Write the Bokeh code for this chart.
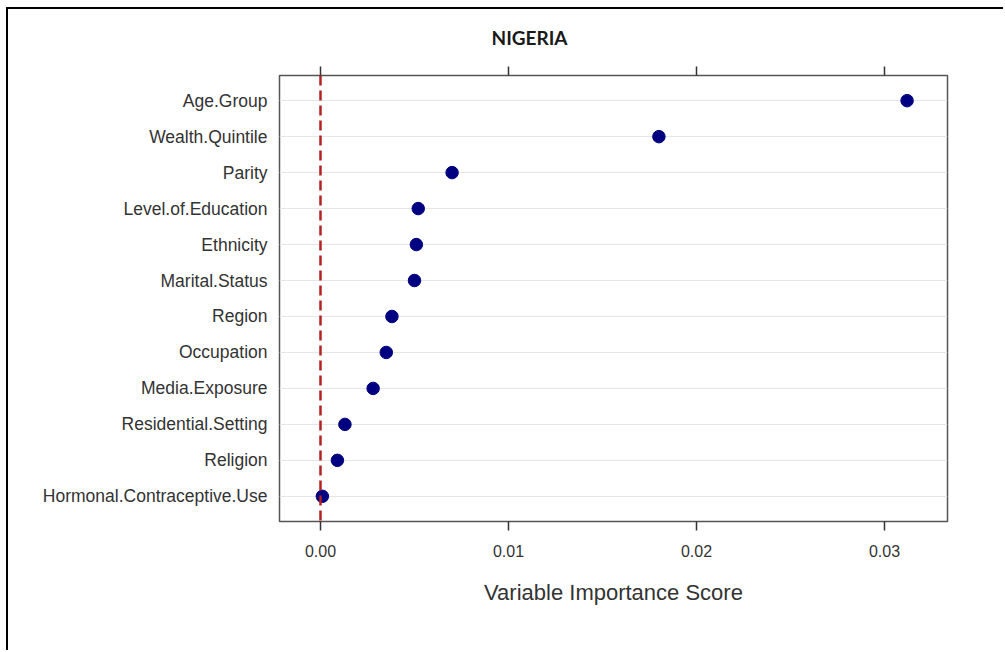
from bokeh.plotting import figure
from bokeh.models import (FactorRange, Range1d, LinearAxis, FixedTicker, Span,
                          ColumnDataSource, CustomJSTickFormatter)
from bokeh.embed import file_html
from bokeh.resources import INLINE

variables = ["Age.Group", "Wealth.Quintile", "Parity", "Level.of.Education",
             "Ethnicity", "Marital.Status", "Region", "Occupation",
             "Media.Exposure", "Residential.Setting", "Religion",
             "Hormonal.Contraceptive.Use"]
importance = [0.0312, 0.0180, 0.0070, 0.0052, 0.0051, 0.0050, 0.0038,
              0.0035, 0.0028, 0.0013, 0.0009, 0.0001]
x_ticks = [0.00, 0.01, 0.02, 0.03]
x_tick_labels = ["0.00", "0.01", "0.02", "0.03"]
title_text = "NIGERIA"

src = ColumnDataSource(dict(var=variables, imp=importance))

p = figure(width=997, height=643,
           y_range=FactorRange(factors=list(reversed(variables)),
                               range_padding=0.2, range_padding_units="absolute"),
           x_range=Range1d(-0.00218, 0.03335),
           output_backend="svg", toolbar_location=None,
           min_border_left=271, min_border_right=58,
           min_border_top=66, min_border_bottom=131)
p.styles = {"border-top": "2px solid black", "border-left": "2px solid black",
            "position": "relative", "left": "6px", "top": "7px"}

p.title.text = title_text
p.title.text_font = "Lato"
p.title.text_font_style = "bold"
p.title.text_font_size = "19px"
p.title.text_color = "#1a1a1a"
p.title.align = "left"
p.title.offset = 212
p.title.vertical_align = "top"
p.title.standoff = 32

p.outline_line_color = "#555555"
p.outline_line_width = 1.5
p.xgrid.grid_line_color = None
p.ygrid.grid_line_color = "#e6e6e6"
p.ygrid.grid_line_width = 1

fmt = CustomJSTickFormatter(args=dict(t=x_ticks, l=x_tick_labels),
                            code="const i = t.findIndex(v => Math.abs(v - tick) < 1e-9); return i >= 0 ? l[i] : '';")

xa = p.xaxis[0]
xa.ticker = FixedTicker(ticks=x_ticks)
xa.formatter = fmt
xa.axis_line_color = None
xa.major_tick_out = 9
xa.major_tick_in = 0
xa.minor_tick_line_color = None
xa.major_tick_line_color = "#333333"
xa.major_tick_line_width = 1.5
xa.major_label_text_font = "Liberation Sans"
xa.major_label_text_font_size = "16px"
xa.major_label_text_color = "#333333"
xa.major_label_standoff = 14
xa.axis_label = "Variable Importance Score"
xa.axis_label_text_font = "Liberation Sans"
xa.axis_label_text_font_size = "22px"
xa.axis_label_text_font_style = "normal"
xa.axis_label_text_color = "#333333"
xa.axis_label_standoff = 20

top = LinearAxis(ticker=FixedTicker(ticks=x_ticks), axis_line_color=None,
                 major_tick_out=9, major_tick_in=0, minor_tick_line_color=None,
                 major_tick_line_color="#333333", major_tick_line_width=1.5,
                 major_label_text_color=None, major_label_standoff=0,
                 major_label_text_font_size="1px")
p.add_layout(top, "above")

ya = p.yaxis[0]
ya.axis_line_color = None
ya.major_tick_line_color = None
ya.major_tick_out = 0
ya.major_tick_in = 0
ya.major_label_text_font = "Liberation Sans"
ya.major_label_text_font_size = "17.5px"
ya.major_label_text_color = "#333333"
ya.major_label_standoff = 12

p.add_layout(Span(location=0, dimension="height", line_color="#B22222",
                  line_dash="10 5", line_width=2.5))

p.scatter(x="imp", y="var", source=src, size=12.5, color="#000080")

open("out.html", "w").write(file_html(p, INLINE))
